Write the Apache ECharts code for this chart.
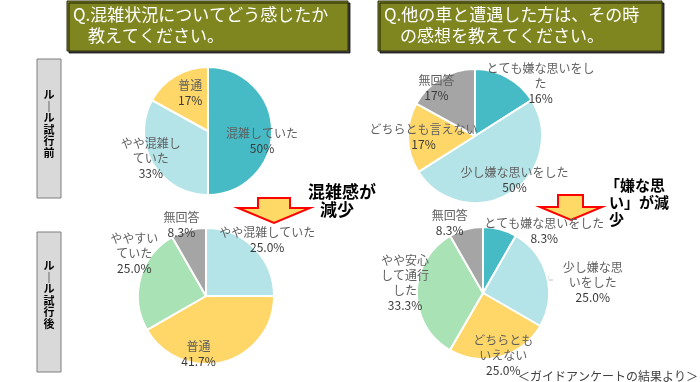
<!DOCTYPE html>
<html><head><meta charset="utf-8">
<script src="https://cdn.jsdelivr.net/npm/echarts@6/dist/echarts.min.js"></script>
<style>html,body{margin:0;padding:0;background:#fff}#c{width:700px;height:382px}</style>
</head><body><div id="c"></div>
<script>
const FONT = '"Noto Sans CJK JP", "Noto Sans CJK SC", sans-serif';

// ---- data ----
const congestionBeforeCategories = ['混雑していた', 'やや混雑していた', '普通'];
const congestionBeforeLabels = ['混雑していた', 'やや混雑し\nていた', '普通'];
const congestionBeforeValues = [50, 33, 17];

const congestionAfterCategories = ['やや混雑していた', '普通', 'ややすいていた', '無回答'];
const congestionAfterLabels = ['やや混雑していた', '普通', 'ややすい\nていた', '無回答'];
const congestionAfterValues = [25.0, 41.7, 25.0, 8.3];

const encounterBeforeCategories = ['とても嫌な思いをした', '少し嫌な思いをした', 'どちらとも言えない', '無回答'];
const encounterBeforeLabels = ['とても嫌な思いをし\nた', '少し嫌な思いをした', 'どちらとも言えない', '無回答'];
const encounterBeforeValues = [16, 50, 17, 17];

const encounterAfterCategories = ['とても嫌な思いをした', '少し嫌な思いをした', 'どちらともいえない', 'やや安心して通行した', '無回答'];
const encounterAfterLabels = ['とても嫌な思いをした', '少し嫌な思\nいをした', 'どちらとも\nいえない', 'やや安心\nして通行\nした', '無回答'];
const encounterAfterValues = [8.3, 25.0, 25.0, 33.3, 8.3];

// ---- styles ----
const C = { teal: '#46bbc6', cyan: '#b5e4e8', yellow: '#fed768', grey: '#a5a5a5', green: '#a8e2b5' };

function makePie(cats, labels, vals, colors, center, radius, decimals, offsets) {
  return {
    type: 'pie',
    center: center,
    radius: radius,
    startAngle: 90,
    clockwise: true,
    animation: false,
    silent: true,
    itemStyle: { borderColor: '#fff', borderWidth: 2 },
    label: {
      show: true,
      position: 'inside',
      fontFamily: FONT,
      formatter: function (p) {
        const lines = labels[p.dataIndex].split('\n').map(s => '{n|' + s + '}');
        return lines.join('\n') + '\n{p|' + vals[p.dataIndex].toFixed(decimals) + '%}';
      },
      rich: {
        n: { color: '#5f5f5f', fontSize: 12, lineHeight: 15, fontFamily: FONT },
        p: { color: '#3a3a3a', fontSize: 12, lineHeight: 15, fontFamily: FONT }
      }
    },
    labelLine: { show: false },
    labelLayout: function (p) {
      const o = offsets[p.dataIndex];
      return { dx: o[0], dy: o[1] };
    },
    data: cats.map((c, i) => ({ name: c, value: vals[i], itemStyle: { color: colors[i] } }))
  };
}

const chart = echarts.init(document.getElementById('c'));

function titleBox(x, w, line1, line2, indent2) {
  return [
    { type: 'rect', shape: { x: x, y: 1, width: w, height: 50 },
      style: { fill: '#7f861f', stroke: '#2e2e10', lineWidth: 1, shadowColor: 'rgba(0,0,0,0.75)', shadowOffsetX: 2, shadowOffsetY: 2, shadowBlur: 0 } },
    { type: 'text', x: x + 6, y: 15, style: { text: line1, fill: '#fff', font: '17px ' + FONT, textVerticalAlign: 'middle' } },
    { type: 'text', x: x + indent2, y: 36, style: { text: line2, fill: '#fff', font: '17px ' + FONT, textVerticalAlign: 'middle' } }
  ];
}
function sideBox(y, h, text, ty) {
  return [
    { type: 'rect', shape: { x: 37, y: y, width: 24, height: h }, style: { fill: '#d9d9d9', stroke: '#7f7f7f', lineWidth: 1 } },
    { type: 'text', x: 49, y: ty, style: { text: text, fill: '#000', font: 'bold 11px ' + FONT, lineHeight: 11.5, textAlign: 'center', textVerticalAlign: 'middle' } }
  ];
}
function arrow(sx1, sx2, top, hx1, hx2, htop, tipx, tipy) {
  return { type: 'polygon', shape: { points: [[sx1, top], [sx2, top], [sx2, htop], [hx2, htop], [tipx, tipy], [hx1, htop], [sx1, htop]] },
    style: { fill: '#ffd966', stroke: '#ff0000', lineWidth: 2, lineJoin: 'miter' } };
}

chart.setOption({
  animation: false,
  textStyle: { fontFamily: FONT },
  series: [
    makePie(congestionBeforeCategories, congestionBeforeLabels, congestionBeforeValues, [C.teal, C.cyan, C.yellow], [208, 131], 64, 0,
      [[19, 10], [-27, 10], [0, -8]]),
    makePie(encounterBeforeCategories, encounterBeforeLabels, encounterBeforeValues, [C.teal, C.cyan, C.yellow, C.grey], [475, 136], 67, 0,
      [[48, -21], [20, 13], [-15, 0], [-20, -17]]),
    makePie(congestionAfterCategories, congestionAfterLabels, congestionAfterValues, [C.cyan, C.yellow, C.green, C.grey], [206, 296], 68, 1,
      [[35, -30], [-17, 22], [-36, -33], [-15, -35]]),
    makePie(encounterAfterCategories, encounterAfterLabels, encounterAfterValues, [C.teal, C.cyan, C.yellow, C.green, C.grey], [483, 293], 66, 1,
      [[52, -27], [75, -1], [11, 28], [-42, -10], [-24, -35]])
  ],
  graphic: [].concat(
    titleBox(67, 281, 'Q.混雑状況についてどう感じたか', '教えてください。', 21),
    titleBox(378, 284, 'Q.他の車と遭遇した方は、その時', 'の感想を教えてください。', 22),
    sideBox(59, 139, 'ル\n｜\nル\n試\n行\n前', 124),
    sideBox(232, 140, 'ル\n｜\nル\n試\n行\n後', 295),
    [
      arrow(258, 290, 198, 238, 310, 208, 274, 223),
      arrow(558, 583, 195, 540, 602, 207, 571, 220),
      { type: 'text', x: 308, y: 192, style: { text: '混雑感が', fill: '#000', font: 'bold 17px ' + FONT, textVerticalAlign: 'middle' } },
      { type: 'text', x: 320, y: 210, style: { text: '減少', fill: '#000', font: 'bold 17px ' + FONT, textVerticalAlign: 'middle' } },
      { type: 'text', x: 605, y: 185, style: { text: '「嫌な思', fill: '#000', font: 'bold 15px ' + FONT, textVerticalAlign: 'middle' } },
      { type: 'text', x: 609, y: 202, style: { text: 'い」が減', fill: '#000', font: 'bold 15px ' + FONT, textVerticalAlign: 'middle' } },
      { type: 'text', x: 609, y: 219, style: { text: '少', fill: '#000', font: 'bold 15px ' + FONT, textVerticalAlign: 'middle' } },
      { type: 'polyline', shape: { points: [[548, 276], [548, 280], [553, 280]] }, style: { stroke: '#bfbfbf', lineWidth: 1, fill: null } },
      { type: 'text', x: 518, y: 376, style: { text: '＜ガイドアンケートの結果より＞', fill: '#404040', font: '12px ' + FONT, textVerticalAlign: 'middle' } }
    ]
  )
});
</script>
</body></html>
